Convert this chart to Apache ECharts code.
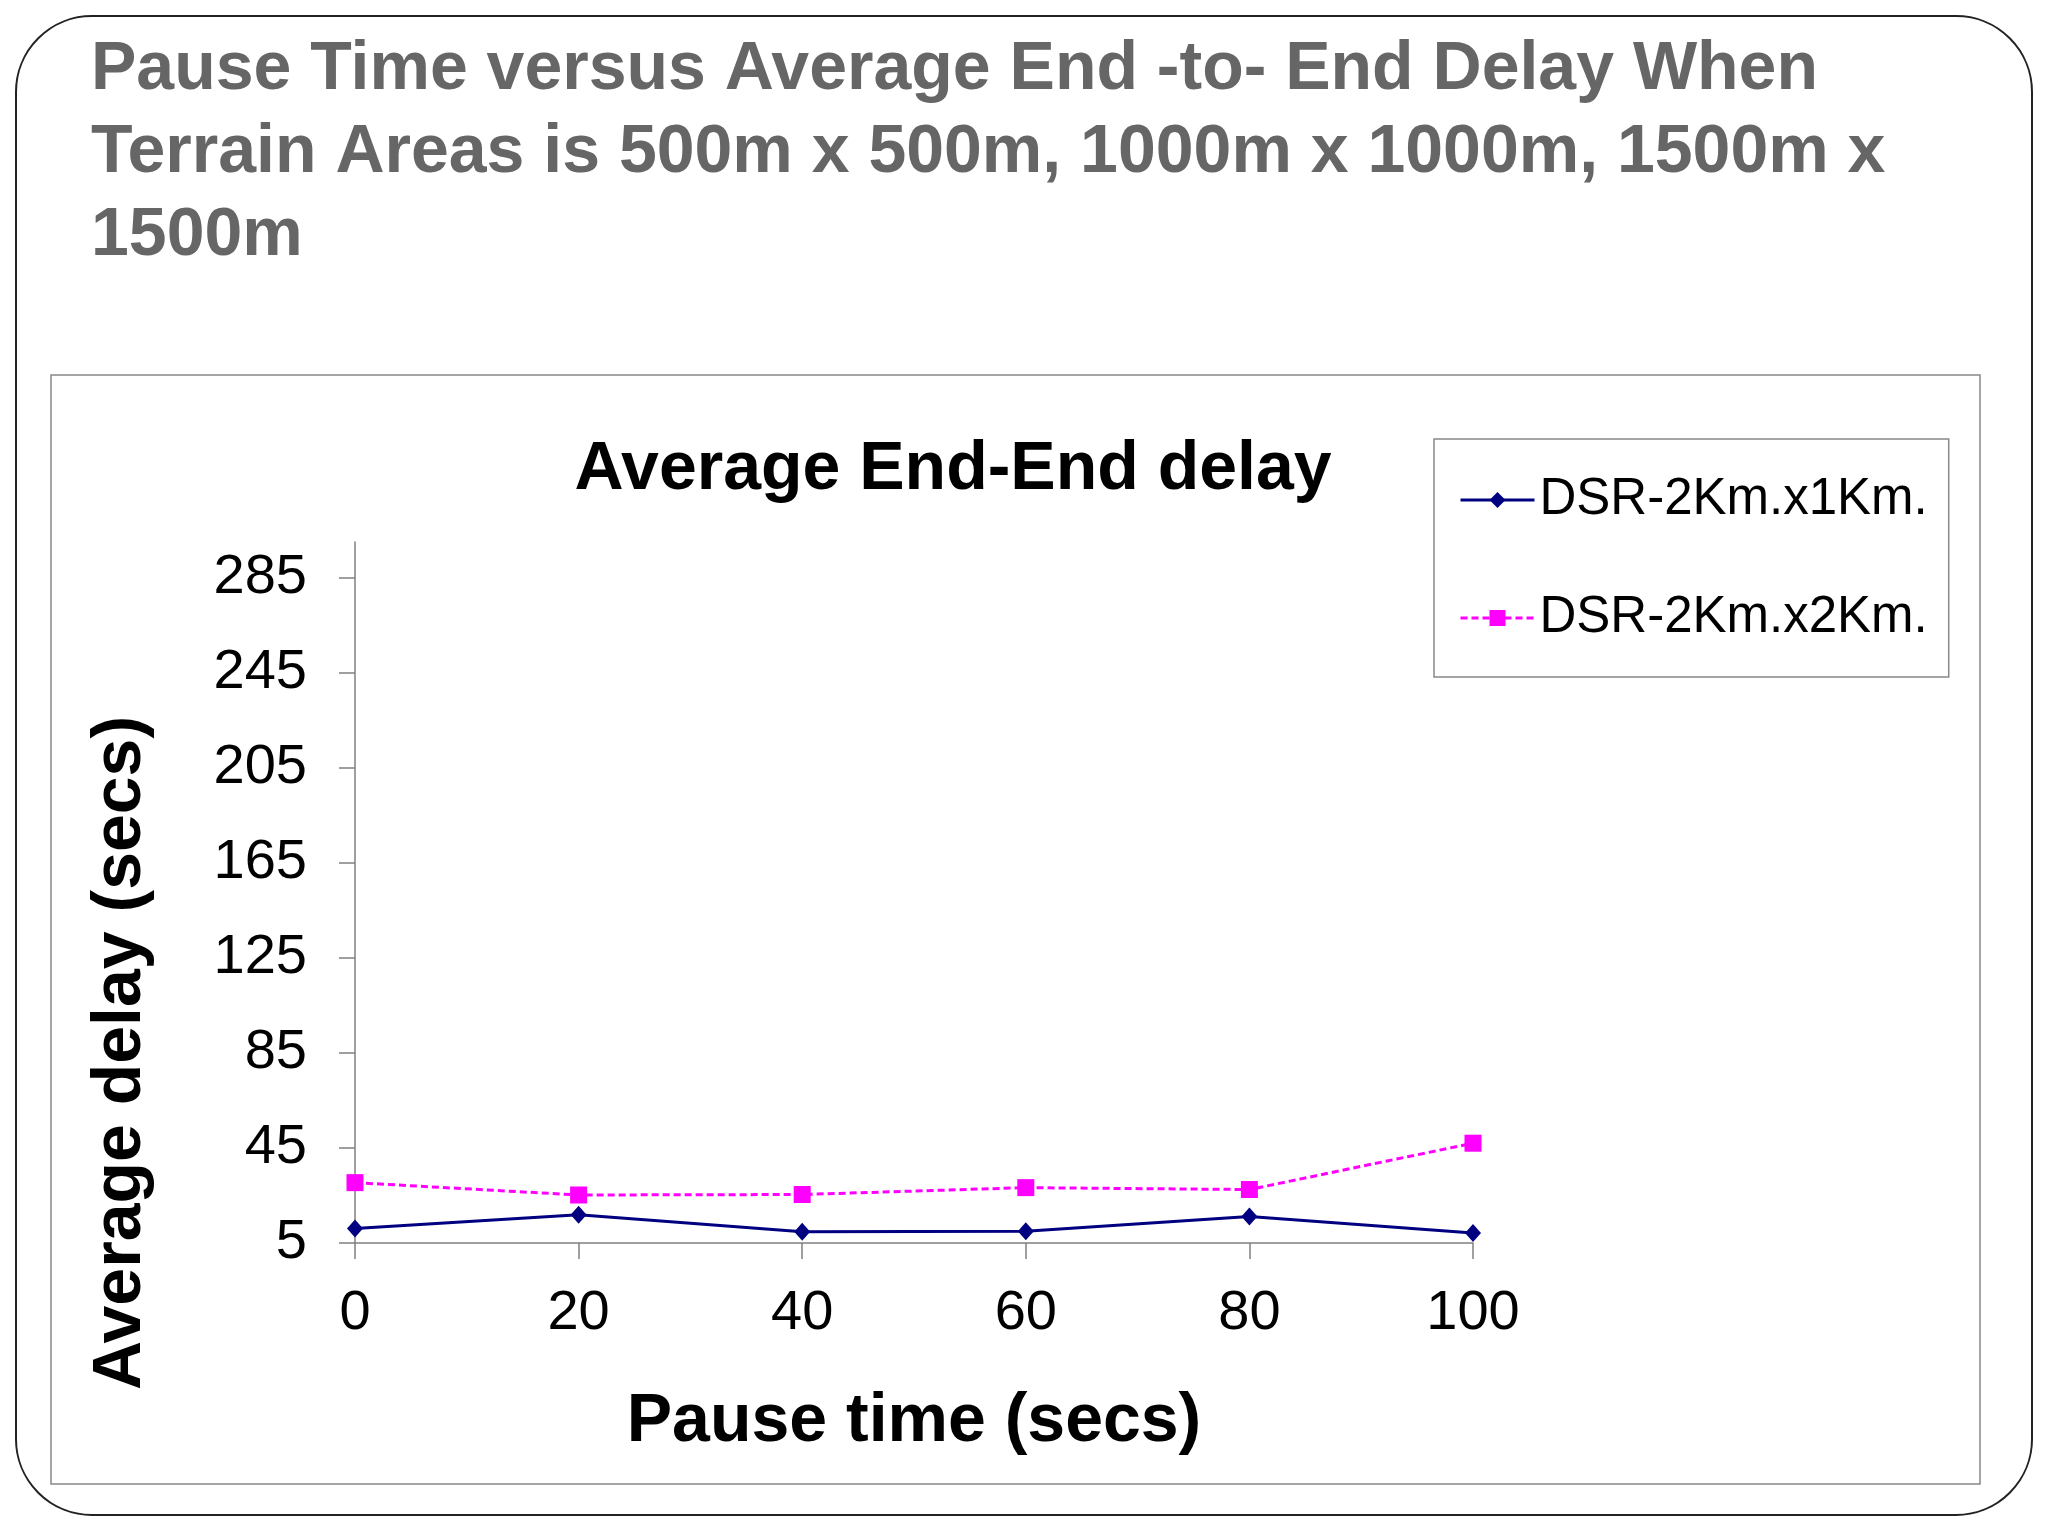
<!DOCTYPE html>
<html>
<head>
<meta charset="utf-8">
<script src="https://cdn.jsdelivr.net/npm/echarts@6/dist/echarts.min.js"></script>
<style>
html,body{margin:0;padding:0;background:#fff;}
#chart{width:2048px;height:1536px;}
</style>
</head>
<body>
<div id="chart"></div>
<script>
const categories = ['0', '20', '40', '60', '80', '100'];
const dsr2x1 = [11.1, 16.9, 9.7, 9.9, 16.2, 9.2];
const dsr2x2 = [30.4, 25.2, 25.4, 28.3, 27.5, 47.0];
const yTicks = [5, 45, 85, 125, 165, 205, 245, 285];
const seriesNames = ['DSR-2Km.x1Km.', 'DSR-2Km.x2Km.'];
const mainTitle = 'Pause Time versus Average End -to- End Delay When\nTerrain Areas is 500m x 500m, 1000m x 1000m, 1500m x\n1500m';
const chartTitle = 'Average End-End delay';
const xName = 'Pause time (secs)';
const yName = 'Average delay (secs)';

const FONT = 'Liberation Sans, Arial, sans-serif';
const chart = echarts.init(document.getElementById('chart'));
chart.setOption({
  animation: false,
  backgroundColor: '#fff',
  graphic: [
    { type: 'rect', shape: { x: 16, y: 16, width: 2016, height: 1499, r: 76 },
      style: { fill: 'none', stroke: '#222', lineWidth: 2 }, z: 0 },
    { type: 'rect', shape: { x: 51, y: 375, width: 1929, height: 1109 },
      style: { fill: 'none', stroke: '#888', lineWidth: 1.5 }, z: 0 },
    { type: 'text', x: 121, y: 1053, rotation: Math.PI / 2,
      style: { text: yName, font: 'bold 68px ' + FONT, fill: '#000',
               textAlign: 'center', textVerticalAlign: 'middle' }, z: 5 }
  ],
  title: [
    { text: mainTitle, left: 91, top: 29, padding: 0,
      textStyle: { fontFamily: FONT, fontSize: 68, fontWeight: 'bold', color: '#666', lineHeight: 83 } },
    { text: chartTitle, left: 953, top: 430, padding: 0, textAlign: 'center',
      textStyle: { fontFamily: FONT, fontSize: 68, fontWeight: 'bold', color: '#000', lineHeight: 80 } }
  ],
  legend: {
    orient: 'vertical', left: 1434, top: 439,
    padding: [31, 21, 29, 25], itemGap: 58, itemWidth: 74, itemHeight: 20,
    borderColor: '#888', borderWidth: 1.5, backgroundColor: '#fff',
    data: seriesNames,
    lineStyle: { width: 3 },
    textStyle: { fontFamily: FONT, fontSize: 51, color: '#000', lineHeight: 60 }
  },
  grid: { left: 355, right: 575, top: 542, bottom: 293 },
  xAxis: {
    type: 'category', data: categories, boundaryGap: false,
    name: xName, nameLocation: 'middle', nameGap: 139,
    nameTextStyle: { fontFamily: FONT, fontSize: 68, fontWeight: 'bold', color: '#000', lineHeight: 80 },
    axisLine: { lineStyle: { color: '#808080', width: 1.5 } },
    axisTick: { show: true, length: 16, lineStyle: { color: '#808080', width: 1.5 } },
    axisLabel: { fontFamily: FONT, fontSize: 56, color: '#000', margin: 43, lineHeight: 56 },
    splitLine: { show: false }
  },
  yAxis: {
    type: 'value', min: 5, max: 300, interval: 40,
    axisLine: { show: true, lineStyle: { color: '#808080', width: 1.5 } },
    axisTick: { show: true, length: 16, customValues: yTicks, lineStyle: { color: '#808080', width: 1.5 } },
    axisLabel: { fontFamily: FONT, fontSize: 56, color: '#000', margin: 48, customValues: yTicks },
    splitLine: { show: false }
  },
  series: [
    { name: seriesNames[0], type: 'line', data: dsr2x1,
      symbol: 'diamond', symbolSize: [16, 18],
      itemStyle: { color: '#000080' },
      lineStyle: { color: '#000080', width: 3 } },
    { name: seriesNames[1], type: 'line', data: dsr2x2,
      symbol: 'rect', symbolSize: 17,
      itemStyle: { color: '#FF00FF' },
      lineStyle: { color: '#FF00FF', width: 3, type: [7, 4] } }
  ]
});
</script>
</body>
</html>
